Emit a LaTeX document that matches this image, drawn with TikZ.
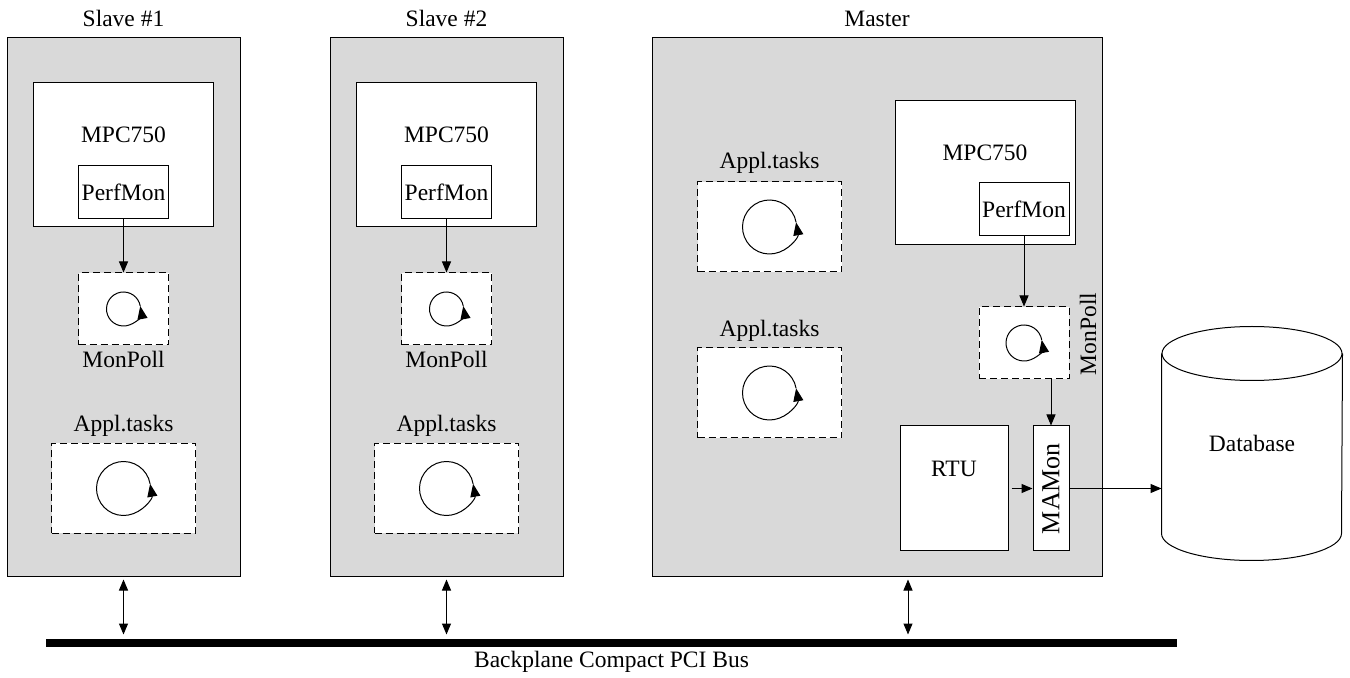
\documentclass[tikz,border=0pt]{standalone}
\usepackage{fontspec}
\usepackage{graphicx}
\setmainfont{Liberation Serif}
\usepackage{tikz}
\usetikzlibrary{shapes,arrows.meta,positioning,calc}
\definecolor{boardgray}{RGB}{217,217,217}
\tikzset{
    board/.style={rectangle, draw, fill=boardgray, minimum width=116.5pt, minimum height=269.5pt, inner sep=0pt},
    cpu/.style={rectangle, draw, fill=white, minimum width=90pt, minimum height=72pt, inner sep=0pt},
    perfmon/.style={rectangle, draw, fill=white, minimum width=45pt, minimum height=26.5pt, inner sep=0pt},
    task/.style={rectangle, draw, dash pattern=on 3.5pt off 2pt, fill=white, minimum width=72pt, minimum height=45pt, inner sep=0pt},
    poll/.style={task, minimum width=45pt, minimum height=36pt},
    rtubox/.style={rectangle, draw, fill=white, minimum width=54pt, minimum height=62.5pt, inner sep=0pt},
    mamonbox/.style={rectangle, draw, fill=white, minimum width=18pt, minimum height=62.5pt, inner sep=0pt, font=\fontsize{13}{15}\selectfont},
    dbase/.style={rectangle, minimum width=90pt, minimum height=89.5pt, inner sep=0pt},
    bus/.style={rectangle, fill=black, minimum width=565.5pt, minimum height=4pt, inner sep=0pt},
    lbl/.style={anchor=base},
    line/.style={draw, -{Triangle[length=5.5pt,width=4.5pt]}},
    busline/.style={draw, {Triangle[length=5.5pt,width=4.5pt]}-{Triangle[length=5.5pt,width=4.5pt]}, shorten <=1pt, shorten >=2pt},
    taskloop/.style={draw, -{Triangle[length=6.5pt,width=5pt]}}
}
\newcommand{\taskcircle}[2]{\path[taskloop] (#1) ++(350:#2) arc[start angle=350, end angle=-10, radius=#2];}

\begin{document}
\fontsize{11.75}{14}\selectfont
\begin{tikzpicture}[x=0.5pt, y=-0.5pt, line width=0.5pt]
    \useasboundingbox (0,0) rectangle (1350,678);

    % Slave boards
    \foreach \i/\x in {1/123.5,2/446.5}{
        \node [board] (board\i) at (\x,307.5) {};
        \node [lbl] at (\x,27) {Slave \#\i};
        \node [cpu] (cpu\i) at (\x,155) {};
        \node [lbl] at (\x,143) {MPC750};
        \node [perfmon] (perf\i) at (\x,192.5) {PerfMon};
        \node [poll] (poll\i) at (\x,309) {};
        \node [lbl] at (\x,368) {MonPoll};
        \node [lbl] at (\x,432) {Appl.tasks};
        \node [task] (appl\i) at (\x,488.5) {};
        \path [line] (perf\i) -- (poll\i);
        \taskcircle{poll\i}{17}
        \taskcircle{appl\i}{27}
    }

    % Master board
    \node [board, minimum width=225pt] (board3) at (877,307.5) {};
    \node [lbl] at (877,27) {Master};
    \node [cpu] (cpu3) at (985,173) {};
    \node [lbl] at (985,161) {MPC750};
    \node [perfmon] (perf3) at (1024,209) {PerfMon};
    \node [poll] (poll3) at (1024,343) {};
    \node [rotate=90] at (1088,334) {MonPoll};
    \node [lbl] at (769.5,169) {Appl.tasks};
    \node [task] (appl3a) at (769.5,227) {};
    \node [lbl] at (769.5,337) {Appl.tasks};
    \node [task] (appl3b) at (769.5,393) {};
    \node [rtubox] (rtu) at (954,488.5) {};
    \node [lbl] at (954,477) {RTU};
    \node [mamonbox] (mamon) at (1051,488.5) {\rotatebox{90}{MAMon}};
    \taskcircle{poll3}{18}
    \taskcircle{appl3a}{27}
    \taskcircle{appl3b}{27}

    % Database
    \node [dbase] (db) at (1252,443.5) {Database};
    \draw (db.north) ellipse [x radius=90, y radius=27];
    \draw (db.north west) -- (db.south west) arc [start angle=180, end angle=0, x radius=90, y radius=27] -- (db.north east);

    % Connections
    \path [line] (perf3) -- (poll3);
    \path [line] (poll3.south -| mamon.north) -- (mamon.north);
    \path [line, shorten <=1.5pt] (rtu) -- (mamon);
    \path [line] (mamon.east) -- (mamon.east -| db.west);

    % Bus
    \node [bus] (bus) at (611.5,643) {};
    \node [lbl] at (611.5,667) {Backplane Compact PCI Bus};
    \foreach \b in {board1,board2}
        \path [busline] (\b.south) -- (\b.south |- bus.north);
    \path [busline] ([xshift=15.5pt]board3.south) -- ([xshift=15.5pt]board3.south |- bus.north);
\end{tikzpicture}
\end{document}
